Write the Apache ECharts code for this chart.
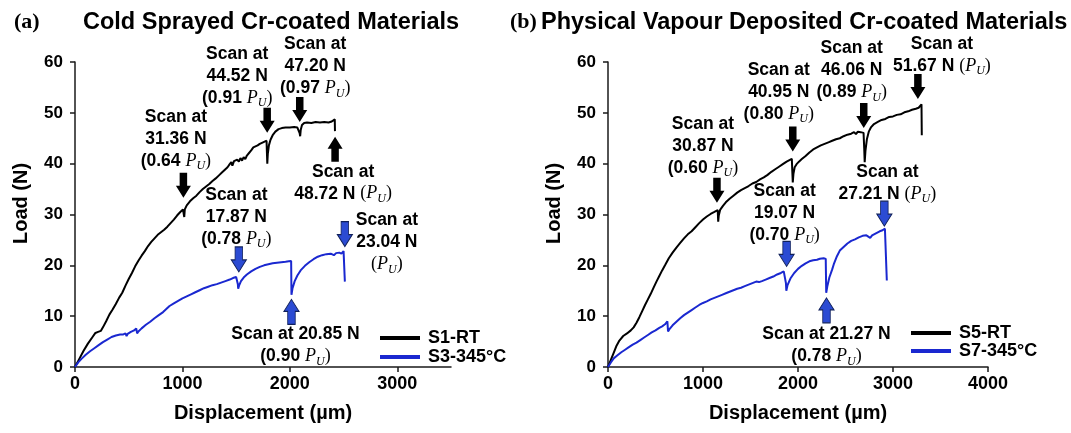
<!DOCTYPE html>
<html>
<head>
<meta charset="utf-8">
<script src="https://cdn.jsdelivr.net/npm/echarts@6/dist/echarts.min.js"></script>
<style>
  html, body { margin: 0; padding: 0; background: #fff; }
  #chart { width: 1071px; height: 433px; }
</style>
</head>
<body>
<div id="chart"></div>
<script>
// ---------- data: load (N) vs displacement (µm) ----------
const s1RT = [
  [0,0],[40,1.6],[80,3.2],[120,4.6],[160,5.8],[190,6.7],[215,6.9],[240,7.1],[260,7.8],[290,9.0],
  [320,10.3],[350,11.3],[380,12.4],[410,13.6],[440,14.6],[470,16.0],[500,17.3],[530,18.5],[560,19.8],
  [590,20.9],[620,21.9],[650,22.8],[680,23.8],[710,24.6],[740,25.3],[770,26.0],[800,26.5],[830,27.0],
  [860,27.6],[890,28.3],[920,29.0],[950,29.8],[980,30.5],[1005,31.0],[1012,31.36],[1017,29.5],[1022,31.0],
  [1040,31.8],[1070,32.6],[1100,33.2],[1130,33.7],[1160,34.4],[1190,35.0],[1220,35.5],[1250,36.0],
  [1280,36.6],[1310,37.1],[1340,37.7],[1370,38.3],[1400,38.9],[1420,39.3],[1440,39.9],[1455,40.3],
  [1465,39.6],[1480,40.5],[1495,40.2],[1510,40.8],[1525,40.4],[1540,41.1],[1555,40.6],[1570,41.3],
  [1585,40.9],[1600,41.6],[1620,42.1],[1640,42.6],[1660,43.2],[1680,43.4],[1700,43.6],[1720,43.9],
  [1740,44.1],[1760,44.3],[1783,44.52],[1786,42.5],[1790,40.0],[1795,42.0],[1805,43.6],[1820,44.7],
  [1840,45.6],[1865,46.3],[1895,46.8],[1925,47.0],[1960,47.1],[2000,47.1],[2040,47.2],[2070,47.1],
  [2088,47.2],[2091,46.0],[2096,45.4],[2101,46.6],[2113,47.6],[2133,48.0],[2160,48.1],[2200,48.0],
  [2240,48.2],[2280,48.1],[2320,48.2],[2360,48.1],[2390,48.3],[2408,48.5],[2418,48.72],[2420,46.4]
];
const s3HT = [
  [0,0],[30,0.9],[60,1.6],[100,2.4],[140,3.1],[180,3.7],[220,4.3],[260,4.9],[300,5.4],[340,5.9],
  [380,6.2],[420,6.4],[450,6.4],[470,6.6],[480,6.1],[490,6.5],[520,6.9],[550,7.2],[570,7.6],[578,6.6],
  [590,7.0],[620,7.6],[660,8.3],[700,8.9],[740,9.6],[780,10.2],[820,10.8],[850,11.4],[860,11.7],
  [880,12.0],[920,12.5],[960,13.0],[1000,13.5],[1040,13.9],[1080,14.3],[1120,14.7],[1160,15.1],
  [1200,15.5],[1240,15.8],[1280,16.1],[1320,16.3],[1360,16.6],[1400,16.9],[1440,17.2],[1470,17.5],
  [1500,17.7],[1512,17.87],[1516,16.3],[1519,15.4],[1527,16.0],[1545,16.9],[1570,17.6],[1600,18.2],
  [1640,18.8],[1680,19.3],[1720,19.7],[1760,20.0],[1800,20.2],[1840,20.4],[1880,20.5],[1920,20.6],
  [1960,20.7],[1990,20.8],[2012,20.85],[2015,14.2],[2025,15.5],[2045,16.9],[2070,18.0],[2100,19.0],
  [2140,19.9],[2180,20.6],[2220,21.2],[2260,21.7],[2300,22.0],[2340,22.2],[2380,22.3],[2410,22.0],
  [2430,22.4],[2460,22.5],[2480,22.3],[2500,22.8],[2510,23.04],[2512,16.8]
];
const s5RT = [
  [0,0],[30,1.4],[60,2.8],[90,4.2],[120,5.2],[160,6.1],[200,6.6],[240,7.2],[270,7.8],[300,8.7],
  [330,9.8],[360,11.0],[390,12.2],[420,13.3],[450,14.4],[480,15.6],[510,16.8],[540,17.9],[570,19.0],
  [600,20.0],[640,21.4],[680,22.5],[720,23.5],[760,24.4],[800,25.3],[840,26.1],[880,26.7],[920,27.5],
  [960,28.3],[1000,29.0],[1040,29.6],[1080,30.1],[1120,30.5],[1155,30.87],[1160,28.6],[1166,29.8],
  [1180,30.9],[1210,31.7],[1240,32.4],[1280,33.1],[1320,33.7],[1360,34.3],[1400,34.8],[1440,35.2],
  [1480,35.6],[1520,36.1],[1560,36.4],[1600,36.9],[1640,37.3],[1680,37.8],[1720,38.4],[1760,38.9],
  [1800,39.4],[1840,39.9],[1880,40.4],[1910,40.7],[1935,40.95],[1940,38.5],[1945,36.3],[1952,38.0],
  [1965,39.3],[1985,39.9],[2010,40.4],[2040,40.9],[2080,41.5],[2120,42.2],[2160,42.8],[2200,43.2],
  [2240,43.6],[2280,43.9],[2320,44.2],[2360,44.5],[2400,44.8],[2440,45.0],[2480,45.4],[2520,45.7],
  [2560,45.9],[2590,46.2],[2610,45.8],[2630,46.3],[2660,46.2],[2690,46.06],[2697,43.0],[2702,40.3],
  [2710,42.5],[2725,44.8],[2745,46.3],[2770,47.2],[2800,47.8],[2840,48.2],[2880,48.6],[2920,48.8],
  [2960,49.2],[3000,49.3],[3040,49.6],[3080,49.7],[3120,50.1],[3160,50.3],[3200,50.6],[3240,50.8],
  [3270,51.0],[3290,51.3],[3300,51.67],[3303,45.6]
];
const s7HT = [
  [0,0],[30,0.9],[60,1.7],[100,2.3],[140,2.9],[180,3.4],[220,3.9],[260,4.4],[300,4.8],[340,5.3],
  [380,5.8],[420,6.3],[460,6.8],[500,7.2],[540,7.7],[570,8.0],[600,8.4],[625,9.0],[632,7.0],[645,7.4],
  [680,8.2],[720,8.9],[760,9.6],[800,10.2],[840,10.7],[880,11.2],[920,11.7],[960,12.2],[1000,12.6],
  [1040,12.9],[1080,13.3],[1120,13.6],[1160,13.9],[1200,14.2],[1240,14.5],[1280,14.8],[1320,15.1],
  [1360,15.4],[1400,15.6],[1440,15.9],[1480,16.2],[1520,16.5],[1560,16.8],[1590,16.7],[1620,16.9],
  [1660,17.2],[1700,17.5],[1740,17.8],[1780,18.2],[1820,18.5],[1850,18.8],[1870,19.07],[1873,16.5],
  [1877,15.0],[1890,16.1],[1920,17.4],[1960,18.5],[2000,19.3],[2040,19.9],[2080,20.4],[2120,20.8],
  [2160,21.0],[2200,21.1],[2230,21.3],[2250,21.1],[2270,21.4],[2292,21.27],[2297,14.6],[2310,16.0],
  [2330,17.6],[2360,19.2],[2380,20.4],[2390,20.7],[2395,20.4],[2410,21.8],[2440,22.9],[2480,23.6],
  [2520,24.3],[2560,24.8],[2600,25.1],[2640,25.5],[2680,25.8],[2720,25.9],[2740,25.6],[2760,25.4],
  [2780,25.9],[2800,26.2],[2830,26.4],[2860,26.7],[2890,26.9],[2915,27.21],[2932,26.9],[2935,17.0]
];

// scan loads (N) and their fraction of the ultimate load P_U (null = P_U itself)
const scanLoadsS1 = [31.36, 44.52, 47.20, 48.72];
const scanRatioS1 = ['0.64', '0.91', '0.97', null];
const scanLoadsS3 = [17.87, 20.85, 23.04];
const scanRatioS3 = ['0.78', '0.90', null];
const scanLoadsS5 = [30.87, 40.95, 46.06, 51.67];
const scanRatioS5 = ['0.60', '0.80', '0.89', null];
const scanLoadsS7 = [19.07, 21.27, 27.21];
const scanRatioS7 = ['0.70', '0.78', null];

// axis ticks
const yTicks = [0, 10, 20, 30, 40, 50, 60];
const xTicksA = [0, 1000, 2000, 3000];
const xTicksB = [0, 1000, 2000, 3000, 4000];

// ---------- annotation layout (arrow tip in axis units, label offset in px) ----------
const layoutS1 = [
  { tip: [1009, 33.3], dir: 'down', off: [-7.5, -46], form: 'stack3' },
  { tip: [1789, 46.1], dir: 'down', off: [-30, -44], form: 'stack3' },
  { tip: [2092, 48.2], dir: 'down', off: [15.5, -43], form: 'stack3' },
  { tip: [2421, 45.3], dir: 'up', off: [8, 33.5], form: 'inline' }
];
const layoutS3 = [
  { tip: [1525, 18.7], dir: 'down', off: [-2.5, -42.5], form: 'stack3' },
  { tip: [2015, 13.3], dir: 'up', off: [4, 33.5], form: 'wide' },
  { tip: [2512, 23.7], dir: 'down', off: [42, 8.5], form: 'stack3' }
];
const layoutS5 = [
  { tip: [1147, 32.3], dir: 'down', off: [-14, -44.4], form: 'stack3' },
  { tip: [1945, 42.4], dir: 'down', off: [-14, -47], form: 'stack3' },
  { tip: [2692, 47.0], dir: 'down', off: [-12, -45], form: 'stack3' },
  { tip: [3262, 52.7], dir: 'down', off: [24, -31.5], form: 'inline' }
];
const layoutS7 = [
  { tip: [1880, 19.8], dir: 'down', off: [-2, -40.7], form: 'stack3' },
  { tip: [2300, 13.6], dir: 'up', off: [0, 35.3], form: 'wide' },
  { tip: [2909, 27.7], dir: 'down', off: [3, -30.5], form: 'inline' }
];

const SANS = '"Liberation Sans", Arial, Helvetica, sans-serif';
const SERIF = '"Liberation Serif", "Times New Roman", serif';
const BLACK = '#000000';
const BLUE = '#1a28d0';

const ARROW_DOWN = 'path://M3.75,0H11.25V13H15L7.5,25L0,13H3.75Z';
const ARROW_UP = 'path://M7.5,0L15,12H11.25V25H3.75V12H0Z';

const rich = {
  b: { fontFamily: SANS, fontWeight: 'bold', fontSize: 17.5, lineHeight: 22, color: '#000' },
  p: { fontFamily: SERIF, fontStyle: 'italic', fontSize: 18, lineHeight: 22, color: '#000' },
  u: { fontFamily: SERIF, fontStyle: 'italic', fontSize: 12, lineHeight: 22, padding: [10, 0, 0, 0], color: '#000' },
  m: { fontFamily: SERIF, fontSize: 18, lineHeight: 22, color: '#000' }
};

function scanText(load, ratio, form) {
  const pu = ratio
    ? '{b|(' + ratio + ' }{p|P}{u|U}{m|)}'
    : '{m|(}{p|P}{u|U}{m|)}';
  const n = load.toFixed(2) + ' N';
  if (form === 'inline') return '{b|Scan at}\n{b|' + n + ' }' + pu;
  if (form === 'wide') return '{b|Scan at ' + n + '}\n' + pu;
  return '{b|Scan at}\n{b|' + n + '}\n' + pu;
}

function arrows(loads, ratios, layout, fill, stroke) {
  return {
    silent: true,
    animation: false,
    data: layout.map((a, i) => ({
      coord: a.tip,
      symbol: a.dir === 'up' ? ARROW_UP : ARROW_DOWN,
      symbolSize: [15, 25],
      symbolOffset: [0, a.dir === 'up' ? '50%' : '-50%'],
      itemStyle: { color: fill, borderColor: stroke || fill, borderWidth: stroke ? 1 : 0 },
      label: {
        show: true,
        position: 'inside',
        align: 'center',
        verticalAlign: 'middle',
        offset: a.off,
        color: '#000',
        formatter: scanText(loads[i], ratios[i], a.form),
        rich: rich
      }
    }))
  };
}

const tickFont = { fontFamily: SANS, fontWeight: 'bold', color: '#000' };
const nameFont = { fontFamily: SANS, fontWeight: 'bold', fontSize: 20, color: '#000' };
const axisLine = { show: true, lineStyle: { color: '#1a1a1a', width: 1.5 } };
const plain = v => String(v);

function xAxis(grid, max, ticks) {
  return {
    gridIndex: grid, type: 'value', min: 0, max: max,
    name: 'Displacement (µm)', nameLocation: 'middle', nameGap: 36, nameTextStyle: nameFont,
    axisLine: axisLine,
    axisTick: { show: true, length: 5, customValues: ticks, lineStyle: { color: '#1a1a1a', width: 1.5 } },
    axisLabel: Object.assign({ fontSize: 18, margin: 8, customValues: ticks, formatter: plain }, tickFont),
    splitLine: { show: false }
  };
}
function yAxis(grid) {
  return {
    gridIndex: grid, type: 'value', min: 0, max: 60, interval: 10,
    name: 'Load (N)', nameLocation: 'middle', nameGap: 44, nameRotate: 90,
    nameTextStyle: Object.assign({ padding: [0, 0, 0, 22] }, nameFont),
    axisLine: axisLine,
    axisTick: { show: true, length: 5, customValues: yTicks, lineStyle: { color: '#1a1a1a', width: 1.5 } },
    axisLabel: Object.assign({ fontSize: 17, margin: 12, customValues: yTicks, formatter: plain }, tickFont),
    splitLine: { show: false }
  };
}
function curve(name, data, color, grid, markPoint) {
  return {
    name: name, type: 'line', xAxisIndex: grid, yAxisIndex: grid,
    data: data, showSymbol: false, symbol: 'none', clip: false,
    color: color, itemStyle: { color: color },
    lineStyle: { color: color, width: 2 },
    markPoint: markPoint
  };
}
function legend(names, left, top, gapLine) {
  return {
    data: names, orient: 'vertical', left: left, top: top, padding: 0,
    icon: 'rect', itemWidth: 40, itemHeight: 4, itemGap: 0, selectedMode: false,
    textStyle: { fontFamily: SANS, fontWeight: 'bold', fontSize: 18, color: '#000', lineHeight: gapLine, padding: [0, 0, 0, 3] }
  };
}

const chart = echarts.init(document.getElementById('chart'), null, { renderer: 'canvas' });
chart.setOption({
  animation: false,
  backgroundColor: '#fff',
  title: [
    { text: '(a)', left: 14, top: 11, padding: 0, textStyle: { fontFamily: SERIF, fontWeight: 'bold', fontSize: 22, color: '#000' } },
    { text: 'Cold Sprayed Cr-coated Materials', left: 83, top: 11, padding: 0, textStyle: { fontFamily: SANS, fontWeight: 'bold', fontSize: 23.5, color: '#000' } },
    { text: '(b)', left: 510, top: 11, padding: 0, textStyle: { fontFamily: SERIF, fontWeight: 'bold', fontSize: 22, color: '#000' } },
    { text: 'Physical Vapour Deposited Cr-coated Materials', left: 541, top: 11, padding: 0, textStyle: { fontFamily: SANS, fontWeight: 'bold', fontSize: 23.5, color: '#000' } }
  ],
  grid: [
    { left: 75, top: 62, width: 376, height: 305 },
    { left: 608, top: 62, width: 380, height: 305 }
  ],
  xAxis: [xAxis(0, 3500, xTicksA), xAxis(1, 4000, xTicksB)],
  yAxis: [yAxis(0), yAxis(1)],
  legend: [
    legend(['S1-RT', 'S3-345°C'], 380, 328.5, 19),
    legend(['S5-RT', 'S7-345°C'], 911, 324, 18)
  ],
  series: [
    curve('S1-RT', s1RT, BLACK, 0, arrows(scanLoadsS1, scanRatioS1, layoutS1, BLACK, null)),
    curve('S3-345°C', s3HT, BLUE, 0, arrows(scanLoadsS3, scanRatioS3, layoutS3, '#2b4bd3', '#10205a')),
    curve('S5-RT', s5RT, BLACK, 1, arrows(scanLoadsS5, scanRatioS5, layoutS5, BLACK, null)),
    curve('S7-345°C', s7HT, BLUE, 1, arrows(scanLoadsS7, scanRatioS7, layoutS7, '#2b4bd3', '#10205a'))
  ]
});
</script>
</body>
</html>
